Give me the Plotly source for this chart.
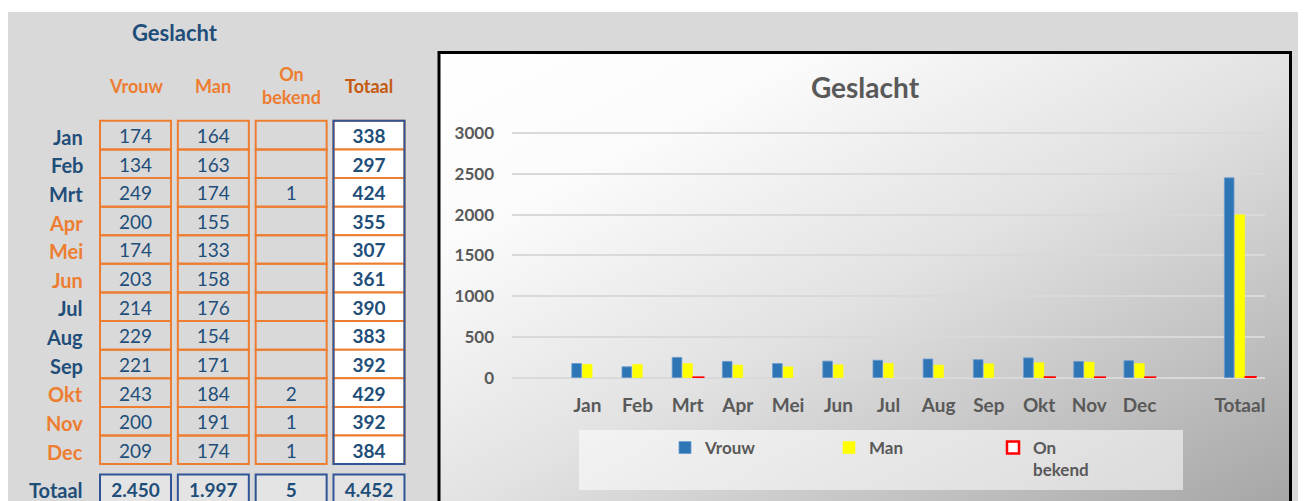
import base64
import plotly.graph_objects as go

# ---------------- data ----------------
months = ["Jan", "Feb", "Mrt", "Apr", "Mei", "Jun", "Jul", "Aug", "Sep", "Okt", "Nov", "Dec"]
vrouw = [174, 134, 249, 200, 174, 203, 214, 229, 221, 243, 200, 209]
man = [164, 163, 174, 155, 133, 158, 176, 154, 171, 184, 191, 174]
onbekend = [None, None, 1, None, None, None, None, None, None, 2, 1, 1]
totaal = [338, 297, 424, 355, 307, 361, 390, 383, 392, 429, 392, 384]
total_label = "Totaal"
total_values = [2450, 1997, 5, 4452]          # Vrouw, Man, Onbekend, Totaal
total_texts = ["2.450", "1.997", "5", "4.452"]
table_headers = ["Vrouw", "Man", "On<br>bekend", "Totaal"]
series_names = ["Vrouw", "Man", "On<br>bekend"]
y_ticks = [0, 500, 1000, 1500, 2000, 2500, 3000]
title_text = "Geslacht"

# ---------------- layout helpers (page px -> figure coords) ----------------
OFF = 8                      # the html body margin
W, H = 1306 - OFF, 501 - OFF


def px(x):
    return (x - OFF) / W


def py(y):
    return 1 - (y - OFF) / H


BG = "#d9d9d9"
BLUE_TXT = "#1f4e79"
ORANGE = "#ed7d31"
DARK_ORANGE = "#c55a11"
GRAY_TXT = "#595959"
FONT = "Lato"
month_colors = [BLUE_TXT] * 3 + [ORANGE] * 3 + [BLUE_TXT] * 3 + [ORANGE] * 3
series_colors = ["#2e75b6", "#ffff00", "#ffffff"]
series_lines = [dict(color="#6a9bd0", width=0.8), dict(color="#ffff00", width=0.5),
                dict(color="#ff0000", width=2.5)]

fig = go.Figure()

# ---------------- chart (x / y) ----------------
chart_labels = [""] + months + ["", total_label]
chart_x = list(range(len(chart_labels)))
series_vals = [vrouw, man, onbekend]
for k, name in enumerate(series_names):
    vals = [None] + series_vals[k] + [None, total_values[k]]
    fig.add_trace(go.Bar(
        x=chart_x, y=vals, name=name, xaxis="x", yaxis="y",
        marker=dict(color=series_colors[k], line=series_lines[k]),
        hoverinfo="skip"))

# ---------------- table (x2 / y2) ----------------
rows = list(range(len(months)))
total_row = 12.36
col_half = 0.456
COL_PX, COL1_PX = 77.83, 135.5       # column pitch / centre of first column (page px)
ROW_PX, ROW0_PX = 28.61, 138.3       # row pitch / text centre of first row (page px)
box_sh = 3.2 / ROW_PX                # cell boxes sit a little higher than the text anchor
cols_data = [vrouw, man, onbekend, totaal]
for c, vals in enumerate(cols_data, start=1):
    fig.add_trace(go.Scatter(
        x=[c] * len(vals), y=rows,
        text=["" if v is None else str(v) for v in vals],
        mode="text", xaxis="x2", yaxis="y2", showlegend=False, hoverinfo="skip",
        textfont=dict(family=FONT, size=19, color=BLUE_TXT,
                      weight=700 if c == 4 else 400)))
fig.add_trace(go.Scatter(
    x=[1, 2, 3, 4], y=[total_row] * 4, text=total_texts, mode="text",
    xaxis="x2", yaxis="y2", showlegend=False, hoverinfo="skip",
    textfont=dict(family=FONT, size=19, color=BLUE_TXT, weight=700)))

shapes = []
annotations = []

for c in range(1, 5):
    for r in rows:
        shapes.append(dict(type="rect", xref="x2", yref="y2",
                           x0=c - col_half, x1=c + col_half,
                           y0=r - 0.5 - box_sh, y1=r + 0.5 - box_sh,
                           line=dict(color=ORANGE, width=2),
                           fillcolor="#ffffff" if c == 4 else "rgba(0,0,0,0)",
                           layer="below"))
    shapes.append(dict(type="rect", xref="x2", yref="y2",
                       x0=c - col_half, x1=c + col_half,
                       y0=total_row - 0.5 - box_sh, y1=total_row + 0.6,
                       line=dict(color="#2f5597", width=2), fillcolor="#e4e4e4", layer="below"))
shapes.append(dict(type="rect", xref="x2", yref="y2",
                   x0=4 - col_half, x1=4 + col_half, y0=-0.5 - box_sh, y1=rows[-1] + 0.5 - box_sh,
                   line=dict(color="#2f5597", width=2), fillcolor="rgba(0,0,0,0)", layer="below"))

for r, (m, col) in enumerate(zip(months, month_colors)):
    annotations.append(dict(xref="x2", yref="y2", x=0.345, y=r, text=m, showarrow=False,
                            xanchor="right", yanchor="middle", yshift=1.5,
                            font=dict(family=FONT, size=20, color=col, weight=700)))
annotations.append(dict(xref="x2", yref="y2", x=0.345, y=total_row, text=total_label,
                        showarrow=False, xanchor="right", yanchor="middle", yshift=1.5,
                        font=dict(family=FONT, size=20, color=BLUE_TXT, weight=700)))
for c, h in enumerate(table_headers, start=1):
    annotations.append(dict(xref="x2", yref="y2", x=c, y=-1.72, text=h, showarrow=False,
                            xanchor="center", yanchor="middle", yshift=3.3,
                            font=dict(family=FONT, size=18,
                                      color=DARK_ORANGE if c == 4 else ORANGE, weight=700)))
annotations.append(dict(xref="x2", yref="y2", x=1.51, y=-3.57, text=title_text, showarrow=False,
                        xanchor="center", yanchor="middle", yshift=3.3,
                        font=dict(family=FONT, size=22, color=BLUE_TXT, weight=700)))

# ---------------- page / chart decoration ----------------
shapes.append(dict(type="rect", xref="paper", yref="paper", x0=0, x1=1, y0=py(12), y1=1,
                   line=dict(width=0), fillcolor="#ffffff", layer="below"))
shapes.append(dict(type="rect", xref="paper", yref="paper", x0=px(579), x1=px(1183),
                   y0=py(490), y1=py(430),
                   line=dict(width=0), fillcolor="rgba(255,255,255,0.55)", layer="below"))
shapes.append(dict(type="rect", xref="paper", yref="paper", x0=px(439), x1=px(1290.5),
                   y0=-0.1, y1=py(52.5),
                   line=dict(color="#000000", width=3), fillcolor="rgba(0,0,0,0)", layer="above"))

svg = ('<svg xmlns="http://www.w3.org/2000/svg" width="854" height="450" viewBox="0 0 854 450" '
       'preserveAspectRatio="none"><defs><linearGradient id="g" x1="0" y1="0" x2="1" y2="1">'
       '<stop offset="0" stop-color="#ffffff"/><stop offset="0.22" stop-color="#fbfbfb"/>'
       '<stop offset="0.52" stop-color="#e2e2e2"/><stop offset="1" stop-color="#a6a6a6"/>'
       '</linearGradient></defs><rect width="854" height="450" fill="url(#g)"/></svg>')
src = "data:image/svg+xml;base64," + base64.b64encode(svg.encode()).decode()

y_px0, y_px_per = 377.7, 244.7 / 3000
ymin, ymax = -4, 3020
dom_bottom = py(y_px0 + (0 - ymin) * y_px_per)
dom_top = py(y_px0 - ymax * y_px_per)

x2_lo = 1 - (COL1_PX - OFF) / COL_PX
x2_hi = x2_lo + W / COL_PX
y2_top = -(ROW0_PX - OFF) / ROW_PX
y2_bot = y2_top + H / ROW_PX

fig.update_layout(
    width=W, height=H, margin=dict(l=0, r=0, t=0, b=0),
    paper_bgcolor=BG, plot_bgcolor="rgba(0,0,0,0)",
    font=dict(family=FONT),
    barmode="group", bargap=0.36, bargroupgap=0.1,
    title=dict(text=title_text, x=px(865), xanchor="center", y=py(88), yanchor="middle",
               font=dict(family=FONT, size=28, color=GRAY_TXT, weight=700)),
    xaxis=dict(domain=[px(512), px(1265)], range=[-0.5, len(chart_labels) - 0.5],
               tickvals=chart_x, ticktext=chart_labels, showgrid=False, zeroline=False,
               showline=False, ticks="", ticklabelstandoff=14, automargin=False,
               tickfont=dict(family=FONT, size=19, color=GRAY_TXT, weight=700),
               anchor="y", fixedrange=True),
    yaxis=dict(domain=[dom_bottom, dom_top], range=[ymin, ymax], tickvals=y_ticks,
               showgrid=True, gridcolor="#d9d9d9", gridwidth=1.5,
               zeroline=True, zerolinecolor="#d9d9d9", zerolinewidth=1.5,
               showline=False, ticks="", ticklabelstandoff=17, automargin=False,
               tickfont=dict(family=FONT, size=17, color=GRAY_TXT, weight=700),
               anchor="x", fixedrange=True),
    xaxis2=dict(domain=[0, 1], range=[x2_lo, x2_hi], visible=False, anchor="y2",
                fixedrange=True),
    yaxis2=dict(domain=[0, 1], range=[y2_bot, y2_top], visible=False, anchor="x2",
                fixedrange=True),
    legend=dict(orientation="h", x=px(665), y=py(430), xanchor="left", yanchor="top",
                font=dict(family=FONT, size=17, color=GRAY_TXT, weight=700),
                bgcolor="rgba(0,0,0,0)", entrywidth=119, valign="top",
                itemclick=False, itemdoubleclick=False, traceorder="normal"),
    images=[dict(source=src, xref="paper", yref="paper", x=px(439), y=py(52),
                 sizex=px(1290) - px(439), sizey=py(52), xanchor="left", yanchor="top",
                 sizing="stretch", layer="below")],
    shapes=shapes, annotations=annotations,
)

fig.write_html("out.html")
